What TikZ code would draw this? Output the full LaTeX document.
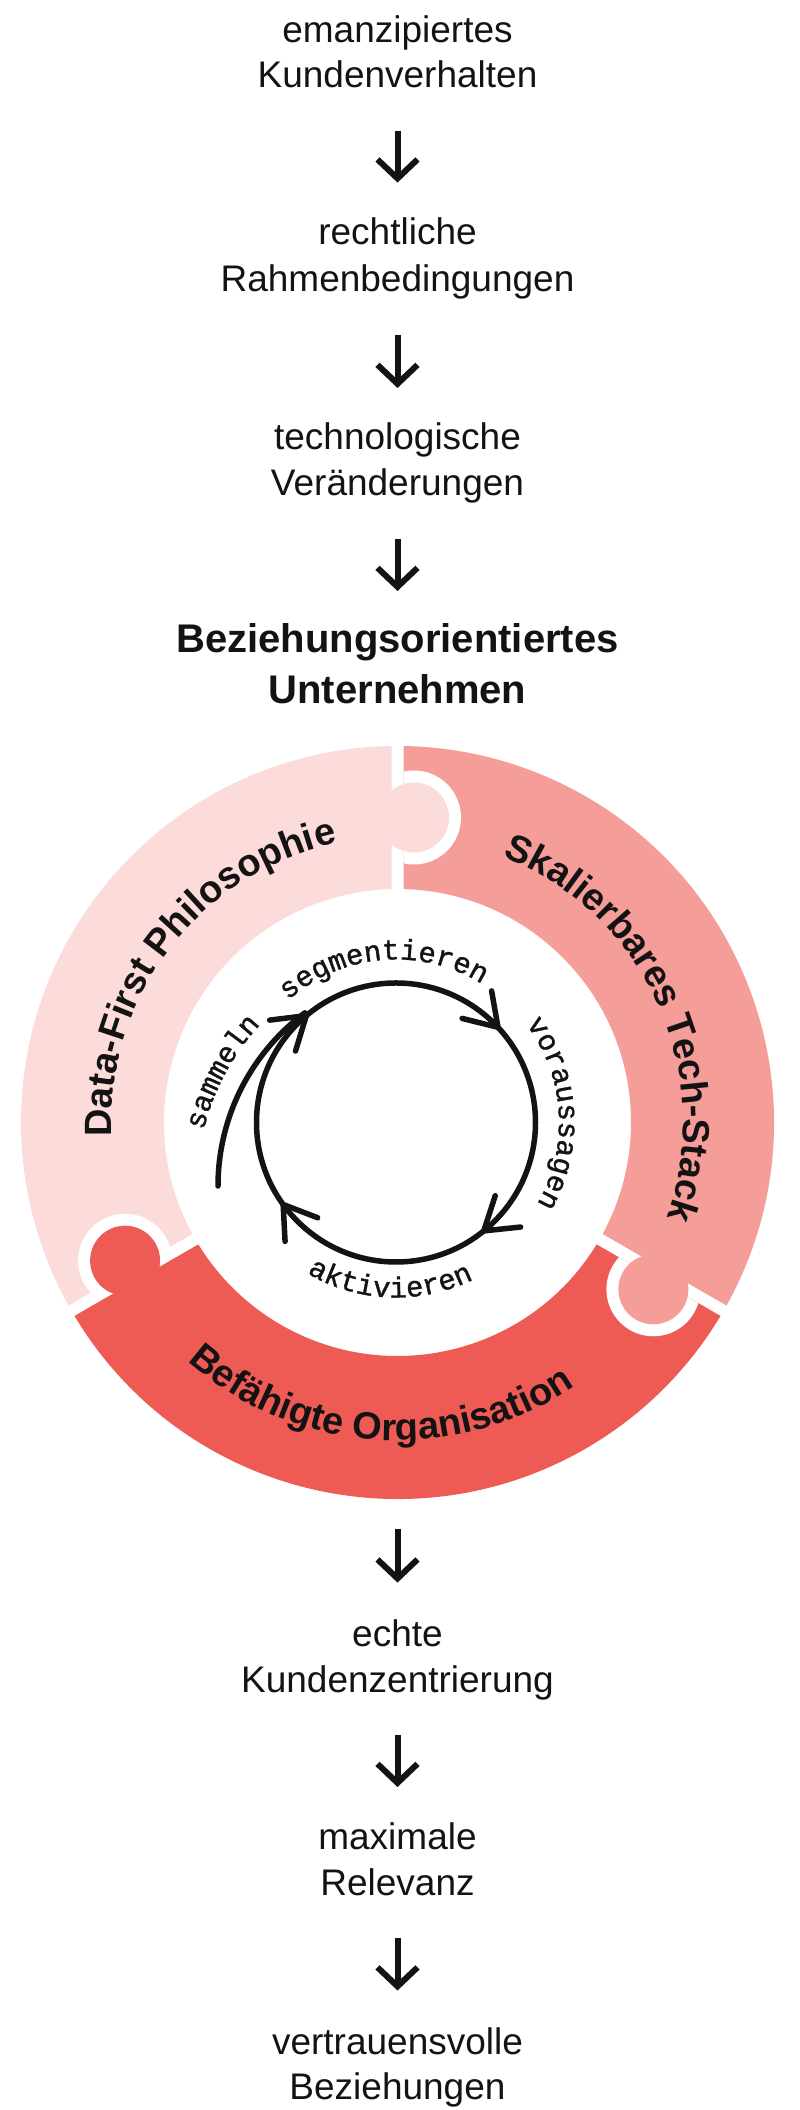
\documentclass[tikz,border=0pt]{standalone}
\usepackage{fontspec}
\setmainfont{Liberation Sans}
\newfontfamily\monof{Liberation Mono}[FakeBold=1.2]
\usetikzlibrary{decorations.text,arrows.meta,calc}
\definecolor{segA}{HTML}{FCDCDA}
\definecolor{segB}{HTML}{F59D98}
\definecolor{segC}{HTML}{EE5B55}
\definecolor{ink}{HTML}{141213}
\newcommand\ringfont{\bfseries\fontsize{38}{38}\selectfont}
\newcommand\cyclefont{\monof\fontsize{29}{29}\selectfont}
\tikzset{
  plain/.style={font=\fontsize{37}{44}\selectfont, text=ink, inner sep=0pt, anchor=base},
  headline/.style={font=\bfseries\fontsize{40}{48}\selectfont, text=ink, inner sep=0pt, anchor=base},
  flow/.style={line width=6pt, draw=ink, -{Straight Barb[length=19pt,width=40pt]}},
  seg/.style 2 args={insert path={({#1+0.913}:376.5pt) arc[start angle={#1+0.913}, end angle={#2-0.913}, radius=376.5pt] -- ({#2-1.473}:233.5pt) arc[start angle={#2-1.473}, end angle={#1+1.473}, radius=233.5pt] -- cycle}},
  cyc/.style={draw=ink, line width=5.5pt, line cap=round, line join=round},
  ringlabel/.style={decorate, decoration={text along path, text align=center, text color=ink, text={|\ringfont|#1}}},
  cyclabel/.style={decorate, decoration={text along path, text align=center, text color=ink, text={|\cyclefont|#1}}},
}
\begin{document}
\begin{tikzpicture}[x=1pt,y=1pt]
\useasboundingbox (0,0) rectangle (800,2110);
% top chain
\node[plain] (t1a) at (397.5,2067.5) {emanzipiertes};
\node[plain] (t1b) at (397.5,2022.3) {Kundenverhalten};
\node[plain] (t2a) at (397.5,1865.4) {rechtliche};
\node[plain] (t2b) at (397.5,1818.3) {Rahmenbedingungen};
\node[plain] (t3a) at (397.5,1660) {technologische};
\node[plain] (t3b) at (397.5,1614) {Veränderungen};
\node[headline] (h1) at (397.5,1457) {Beziehungsorientiertes};
\node[headline] (h2) at (397.5,1406.2) {Unternehmen};
% bottom chain
\node[plain] (b1a) at (397.5,463.4) {echte};
\node[plain] (b1b) at (397.5,417.2) {Kundenzentrierung};
\node[plain] (b2a) at (397.5,260) {maximale};
\node[plain] (b2b) at (397.5,214) {Relevanz};
\node[plain] (b3a) at (397.5,55.5) {vertrauensvolle};
\node[plain] (b3b) at (397.5,10) {Beziehungen};
% ring
\begin{scope}[shift={(397.5,987.5)}]
  \fill[segA, seg={90}{210}];
  \fill[segB, seg={330}{450}];
  \fill[segC, seg={210}{330}];
  \begin{scope}\clip[seg={330}{450}]; \fill[white] (16.5,305) circle[radius=47pt]; \end{scope}
  \fill[segA] (16.5,305) circle[radius=35pt];
  \begin{scope}\clip[seg={90}{210}]; \fill[white] (-272.4,-138.2) circle[radius=47pt]; \end{scope}
  \fill[segC] (-272.4,-138.2) circle[radius=35pt];
  \begin{scope}\clip[seg={210}{330}]; \fill[white] (255.9,-166.8) circle[radius=47pt]; \end{scope}
  \fill[segB] (255.9,-166.8) circle[radius=35pt];
  \path[ringlabel={Data-First Philosophie}] (227.5:286pt) arc[start angle=227.5, end angle=57.5, radius=286pt];
  \path[ringlabel={Skalierbares Tech-Stack}] (109.5:286pt) arc[start angle=109.5, end angle=-60.5, radius=286pt];
  \path[ringlabel={Befähigte Organisation}] (181.3:318pt) arc[start angle=181.3, end angle=351.3, radius=318pt];
  \coordinate (ringbot) at (0,-376);
\end{scope}
% cycle
\begin{scope}[shift={(396,987.5)}]
  \draw[cyc] (0,0) circle[radius=139.5pt];
  \foreach \a in {43,-51,216,130}{
    \draw[cyc] ({\a}:139.5pt) ++({\a+123}:37pt) -- ({\a}:139.5pt) -- ++({\a+57}:37pt);
  }
  \path[cyclabel=segmentieren] (164.8:163pt) arc[start angle=164.8, end angle=24.8, radius=163pt];
  \path[cyclabel=voraussagen] (73.5:163pt) arc[start angle=73.5, end angle=-66.5, radius=163pt];
  \path[cyclabel=aktivieren] (197.9:175pt) arc[start angle=197.9, end angle=337.9, radius=175pt];
\end{scope}
\begin{scope}[shift={(434,924)}]
  \draw[cyc] (180:216pt) arc[start angle=180, end angle=126.7, radius=216pt];
  \path[cyclabel=sammeln] (191.75:237pt) arc[start angle=191.75, end angle=111.75, radius=237pt];
\end{scope}
% connectors
\draw[flow] ([yshift=-43pt]t1b.base) -- ([yshift=62pt]t2a.base);
\draw[flow] ([yshift=-43pt]t2b.base) -- ([yshift=62pt]t3a.base);
\draw[flow] ([yshift=-43pt]t3b.base) -- ([yshift=62pt]h1.base);
\draw[flow] ([yshift=-31pt]ringbot) -- ([yshift=64pt]b1a.base);
\draw[flow] ([yshift=-42pt]b1b.base) -- ([yshift=63pt]b2a.base);
\draw[flow] ([yshift=-42pt]b2b.base) -- ([yshift=64pt]b3a.base);
\end{tikzpicture}
\end{document}
